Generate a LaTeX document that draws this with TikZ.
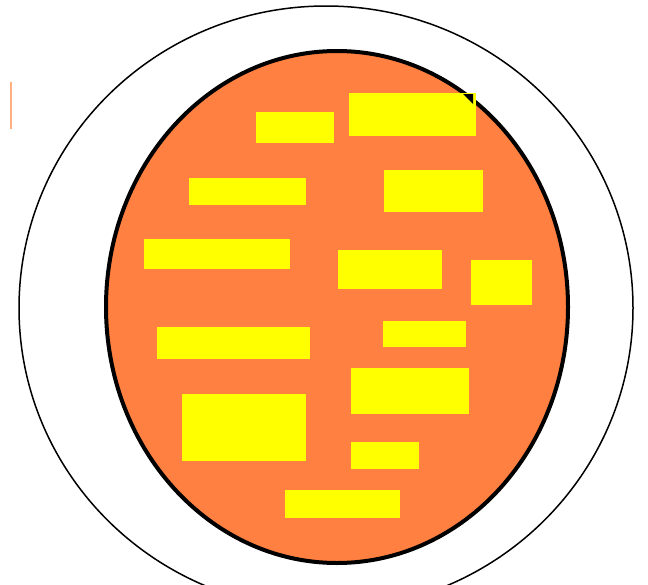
\documentclass[tikz,border=0pt]{standalone}
\usepackage{tikz}

\definecolor{cytoorange}{RGB}{255,128,64}
\definecolor{granuleyellow}{RGB}{255,255,0}
\definecolor{markorange}{RGB}{255,176,128}

\begin{document}
\begin{tikzpicture}[x=1pt, y=-1pt, granule/.style={fill=granuleyellow}]
	\useasboundingbox (0,0) rectangle (648,584);
	\clip (0,0) rectangle (648,584);
	\draw[line width=1.5pt] (326,308) ellipse [x radius=307, y radius=302];
	\filldraw[fill=cytoorange, line width=4pt] (337,307) ellipse [x radius=231, y radius=256];
	\foreach \xa/\ya/\xb/\yb in {256/112/334/143, 349/93/476/136, 189/178/306/205, 384/170/483/212, 144/239/290/269, 338/250/442/289, 471/260/532/305, 157/327/310/359, 383/321/466/347, 351/368/469/414, 182/394/306/461, 351/442/419/469, 285/490/400/518} {\fill[granule] (\xa,\ya) rectangle (\xb,\yb);}
	\fill (463,94) -- (473,94) -- (473,104) -- cycle;
	\fill[markorange] (10,82) rectangle (12,129);
\end{tikzpicture}
\end{document}
